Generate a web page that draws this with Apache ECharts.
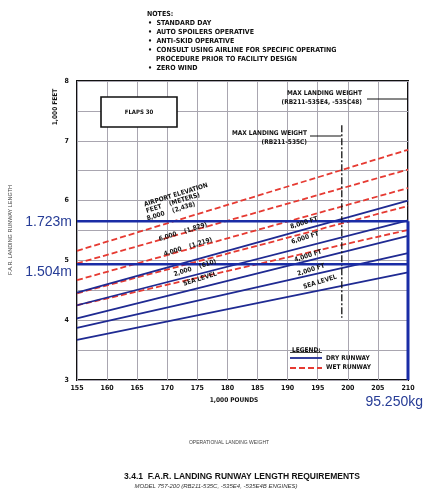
<!DOCTYPE html>
<html>
<head>
<meta charset="utf-8">
<script src="https://cdn.jsdelivr.net/npm/echarts@6/dist/echarts.min.js"></script>
<style>
  html, body { margin: 0; padding: 0; background: #fff; }
  #chart { width: 424px; height: 494px; }
</style>
</head>
<body>
<div id="chart"></div>
<script>
// Operational landing weight (1,000 lb) at the two ends of each curve
const weights = [155, 210];

// Dry runway lengths (1,000 ft) by airport elevation
const drySeaLevel = [3.67, 4.80];
const dry2000 = [3.87, 5.12];
const dry4000 = [4.03, 5.41];
const dry6000 = [4.25, 5.67];
const dry8000 = [4.46, 6.00];

// Wet runway lengths (1,000 ft) by airport elevation
const wetSeaLevel = [4.25, 5.51];
const wet2000 = [4.45, 5.91];
const wet4000 = [4.67, 6.21];
const wet6000 = [4.95, 6.52];
const wet8000 = [5.16, 6.85];

// Reference runway lengths (1,000 ft) and weight limit (1,000 lb)
const runwayRefMeters = [1723, 1504];
const runwayRefFeet = [5.653, 4.934];
const refWeightKg = 95250;
const refWeight = 210;

// Max landing weight, RB211-535C (1,000 lb) and the span of its marker (1,000 ft)
const mlwC = 199;
const mlwCSpan = [7.26, 4.04];

// Axis ticks
const xMin = 155, xMax = 210, xStep = 5;
const yMin = 3, yMax = 8, yStep = 0.5;

const BLUE = '#1f2a92';
const BOX_BLUE = '#1a2ca6';
const RED = '#e63a32';
const NARROW = "'Liberation Sans Narrow', 'DejaVu Sans Condensed', 'Liberation Sans', sans-serif";
const SANS = "'Liberation Sans', Arial, sans-serif";

function pair(ys) { return weights.map((w, i) => [w, ys[i]]); }

function dry(name, ys) {
  return { name, type: 'line', data: pair(ys), symbol: 'none', z: 3,
    lineStyle: { color: BLUE, width: 1.8 } };
}
function wet(name, ys) {
  return { name, type: 'line', data: pair(ys), symbol: 'none', z: 2,
    lineStyle: { color: RED, width: 1.8, type: [6, 3] } };
}

const chart = echarts.init(document.getElementById('chart'), null, { renderer: 'canvas' });

const txt = (text, x, y, opt = {}) => ({
  type: 'text', x, y, rotation: opt.rot || 0, z: 20,
  style: {
    text, font: opt.font || ('bold 6.5px ' + NARROW), fill: opt.color || '#111',
    align: opt.align || 'left', verticalAlign: opt.va || 'middle'
  }
});
const ang = 0.30;

const notes = [
  txt('NOTES:', 147, 14, { font: 'bold 7px ' + NARROW }),
  txt('•  STANDARD DAY', 148, 23.5, { font: 'bold 7px ' + NARROW }),
  txt('•  AUTO SPOILERS OPERATIVE', 148, 32.5, { font: 'bold 7px ' + NARROW }),
  txt('•  ANTI-SKID OPERATIVE', 148, 41.5, { font: 'bold 7px ' + NARROW }),
  txt('•  CONSULT USING AIRLINE FOR SPECIFIC OPERATING', 148, 50.5, { font: 'bold 7px ' + NARROW }),
  txt('PROCEDURE PRIOR TO FACILITY DESIGN', 156, 59.5, { font: 'bold 7px ' + NARROW }),
  txt('•  ZERO WIND', 148, 68.5, { font: 'bold 7px ' + NARROW })
];

const graphics = [
  ...notes,
  // axis titles
  txt('1,000 FEET', 55, 107, { rot: Math.PI / 2, align: 'center', font: 'bold 6.5px ' + NARROW }),
  txt('F.A.R. LANDING RUNWAY LENGTH', 10, 230, { rot: Math.PI / 2, align: 'center', font: '5.5px ' + SANS, color: '#444' }),
  txt('1,000 POUNDS', 234, 400, { align: 'center', font: 'bold 6.5px ' + NARROW }),
  txt('OPERATIONAL LANDING WEIGHT', 229, 443, { align: 'center', font: '5px ' + SANS, color: '#444' }),
  // reference lengths in meters and weight in kg
  txt((runwayRefMeters[0] / 1000).toFixed(3) + 'm', 72, 222, { align: 'right', font: '14px ' + SANS, color: '#263c96' }),
  txt((runwayRefMeters[1] / 1000).toFixed(3) + 'm', 72, 272, { align: 'right', font: '14px ' + SANS, color: '#263c96' }),
  txt((refWeightKg / 1000).toFixed(3) + 'kg', 423, 402, { align: 'right', font: '14px ' + SANS, color: '#263c96' }),
  // caption
  txt('3.4.1  F.A.R. LANDING RUNWAY LENGTH REQUIREMENTS', 242, 477, { align: 'center', font: 'bold 8.5px ' + SANS }),
  txt('MODEL 757-200 (RB211-535C, -535E4, -535E4B ENGINES)', 216, 486.5, { align: 'center', font: 'italic 6px ' + SANS, color: '#333' }),
  // flaps box
  { type: 'rect', shape: { x: 101, y: 97, width: 76, height: 30 }, z: 15,
    style: { fill: '#fff', stroke: '#111', lineWidth: 1.6 } },
  txt('FLAPS 30', 139, 112, { align: 'center', font: 'bold 6px ' + NARROW }),
  // max landing weight callouts
  txt('MAX LANDING WEIGHT', 362, 93, { align: 'right' }),
  txt('(RB211-535E4, -535C48)', 362, 102.5, { align: 'right' }),
  { type: 'line', shape: { x1: 367, y1: 99, x2: 407, y2: 99 }, z: 15, style: { stroke: '#111', lineWidth: 1 } },
  txt('MAX LANDING WEIGHT', 307, 133, { align: 'right' }),
  txt('(RB211-535C)', 307, 142, { align: 'right' }),
  { type: 'line', shape: { x1: 310, y1: 136, x2: 341, y2: 136 }, z: 15, style: { stroke: '#111', lineWidth: 1 } },
  // elevation labels, wet curves
  txt('AIRPORT ELEVATION', 176, 195, { rot: ang, align: 'center' }),
  txt('FEET    (METERS)', 173, 203, { rot: ang, align: 'center' }),
  txt('8,000    (2,438)', 171, 211.5, { rot: ang, align: 'center' }),
  txt('6,000    (1,829)', 183, 232, { rot: ang, align: 'center' }),
  txt('4,000    (1,219)', 188, 247, { rot: ang, align: 'center' }),
  txt('2,000    (610)', 195, 268, { rot: ang, align: 'center' }),
  txt('SEA LEVEL', 200, 279, { rot: ang, align: 'center' }),
  // elevation labels, dry curves
  txt('8,000 FT', 304, 223, { rot: ang, align: 'center' }),
  txt('6,000 FT', 305, 238, { rot: ang, align: 'center' }),
  txt('4,000 FT', 308, 256, { rot: ang, align: 'center' }),
  txt('2,000 FT', 311, 270, { rot: ang, align: 'center' }),
  txt('SEA LEVEL', 320, 282, { rot: ang, align: 'center' }),
  // legend
  txt('LEGEND:', 292, 350),
  { type: 'line', shape: { x1: 290, y1: 352.5, x2: 322, y2: 352.5 }, z: 15, style: { stroke: '#111', lineWidth: 0.8 } },
  { type: 'line', shape: { x1: 290, y1: 358, x2: 322, y2: 358 }, z: 15, style: { stroke: BLUE, lineWidth: 1.8 } },
  txt('DRY RUNWAY', 326, 358),
  { type: 'line', shape: { x1: 290, y1: 368, x2: 322, y2: 368 }, z: 15, style: { stroke: RED, lineWidth: 1.8, lineDash: [6, 3] } },
  txt('WET RUNWAY', 326, 367.5)
];

const option = {
  animation: false,
  backgroundColor: '#fff',
  grid: { left: 77, right: 16, top: 81, bottom: 114, show: true, borderColor: '#111', borderWidth: 2 },
  xAxis: {
    type: 'value', min: xMin, max: xMax, interval: xStep,
    axisLine: { show: false }, axisTick: { show: false },
    splitLine: { show: true, lineStyle: { color: '#a9a6b0', width: 1 } },
    axisLabel: { fontSize: 7, fontWeight: 'bold', color: '#111', margin: 5, fontFamily: NARROW }
  },
  yAxis: {
    type: 'value', min: yMin, max: yMax, interval: yStep,
    axisLine: { show: false }, axisTick: { show: false },
    splitLine: { show: true, lineStyle: { color: '#a9a6b0', width: 1 } },
    axisLabel: { fontSize: 7, fontWeight: 'bold', color: '#111', margin: 8, fontFamily: NARROW,
      formatter: v => (Math.abs(v - Math.round(v)) < 1e-9 ? String(Math.round(v)) : '') }
  },
  series: [
    wet('Wet sea level', wetSeaLevel),
    wet('Wet 2,000 ft', wet2000),
    wet('Wet 4,000 ft', wet4000),
    wet('Wet 6,000 ft', wet6000),
    wet('Wet 8,000 ft', wet8000),
    dry('Dry sea level', drySeaLevel),
    dry('Dry 2,000 ft', dry2000),
    dry('Dry 4,000 ft', dry4000),
    dry('Dry 6,000 ft', dry6000),
    dry('Dry 8,000 ft', dry8000),
    { name: 'MLW RB211-535C', type: 'line', symbol: 'none', z: 4,
      data: mlwCSpan.map(v => [mlwC, v]),
      lineStyle: { color: '#111', width: 1.3, type: [7, 2, 2, 2] } },
    { name: 'Ref 1', type: 'line', symbol: 'none', z: 6,
      data: [[xMin, runwayRefFeet[0]], [refWeight, runwayRefFeet[0]]],
      lineStyle: { color: BOX_BLUE, width: 2.5 } },
    { name: 'Ref 2', type: 'line', symbol: 'none', z: 6,
      data: [[xMin, runwayRefFeet[1]], [refWeight, runwayRefFeet[1]]],
      lineStyle: { color: BOX_BLUE, width: 2.5 } },
    { name: 'Ref weight', type: 'line', symbol: 'none', z: 6,
      data: [[refWeight, runwayRefFeet[0]], [refWeight, yMin]],
      lineStyle: { color: BOX_BLUE, width: 3 } }
  ],
  graphic: graphics
};

chart.setOption(option);
</script>
</body>
</html>
